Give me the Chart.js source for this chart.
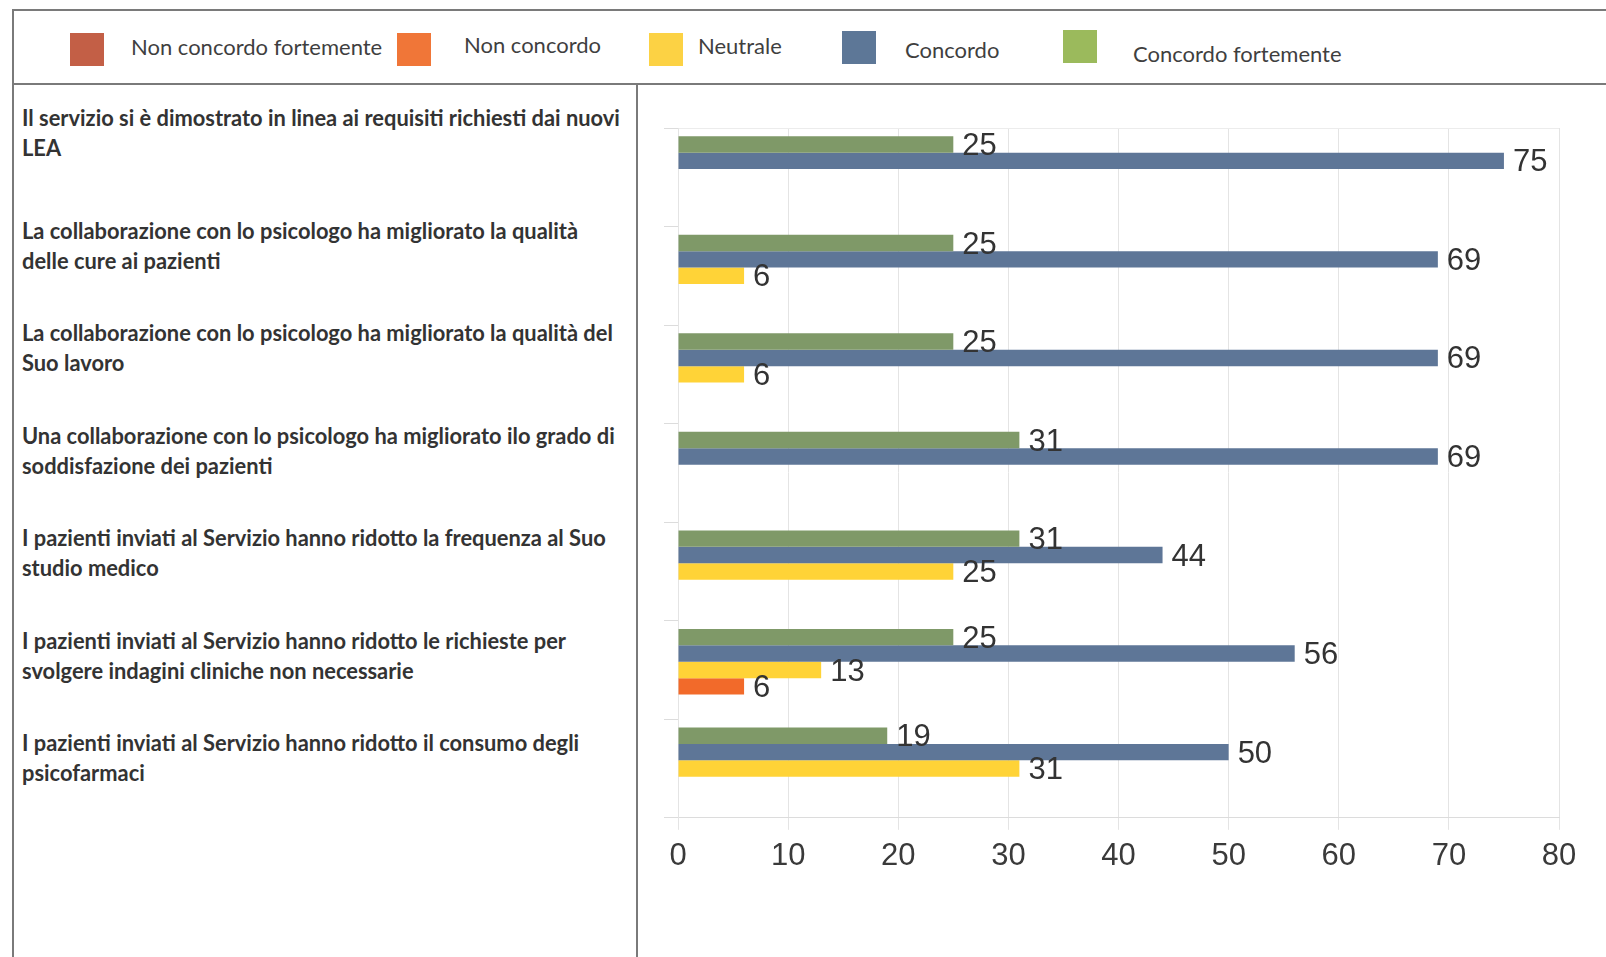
<!DOCTYPE html>
<html>
<head>
<meta charset="utf-8">
<script src="https://cdn.jsdelivr.net/npm/chart.js@4.4.1/dist/chart.umd.min.js"></script>
<style>
    html, body { margin: 0; padding: 0; background: #fff; }
    body { width: 1606px; height: 957px; position: relative; overflow: hidden; }
    .rule { position: absolute; background: #7a7a7a; }
    .swatch { position: absolute; width: 34px; height: 33px; }
    .legend-label {
        position: absolute; font-family: Lato, 'Open Sans', sans-serif;
        font-size: 22px; color: #3f3f3f; white-space: nowrap; line-height: 1;
        transform: translateY(-50%);
    }
    .question {
        position: absolute; left: 22px; font-family: Lato, 'Open Sans', sans-serif;
        font-weight: bold; color: #333; white-space: nowrap; line-height: 30px;
    }
    #plot { position: absolute; left: 640px; top: 86px; width: 966px; height: 871px; }
</style>
</head>
<body>

<div class="rule" style="left:12px; top:9px; width:1594px; height:2px;"></div>
<div class="rule" style="left:12px; top:9px; width:2px; height:948px;"></div>
<div class="rule" style="left:12px; top:83px; width:1594px; height:2px;"></div>
<div class="rule" style="left:636px; top:83px; width:2px; height:874px;"></div>

<div id="legend"></div>
<div id="questions"></div>
<div id="plot"><canvas id="chart"></canvas></div>

<script>
    'use strict';

    // survey statements, one row each (already split on two lines)
    var categories = [
        ['Il servizio si è dimostrato in linea ai requisiti richiesti dai nuovi', 'LEA'],
        ['La collaborazione con lo psicologo ha migliorato la qualità', 'delle cure ai pazienti'],
        ['La collaborazione con lo psicologo ha migliorato la qualità del', 'Suo lavoro'],
        ['Una collaborazione con lo psicologo ha migliorato ilo grado di', 'soddisfazione dei pazienti'],
        ['I pazienti inviati al Servizio hanno ridotto la frequenza al Suo', 'studio medico'],
        ['I pazienti inviati al Servizio hanno ridotto le richieste per', 'svolgere indagini cliniche non necessarie'],
        ['I pazienti inviati al Servizio hanno ridotto il consumo degli', 'psicofarmaci']
    ];

    // answers in percent
    var concordoFortemente    = [25, 25, 25, 31, 31, 25, 19];
    var concordo              = [75, 69, 69, 69, 44, 56, 50];
    var neutrale              = [0, 6, 6, 0, 25, 13, 31];
    var nonConcordo           = [0, 0, 0, 0, 0, 6, 0];
    var nonConcordoFortemente = [0, 0, 0, 0, 0, 0, 0];

    var xTicks = [0, 10, 20, 30, 40, 50, 60, 70, 80];

    var legendNames = ['Non concordo fortemente', 'Non concordo', 'Neutrale', 'Concordo', 'Concordo fortemente'];
    var legendColors = ['#c35f46', '#f07638', '#fcd244', '#5d7797', '#9bba5c'];
    // swatch x, swatch y, label x, label centre y
    var legendSlots = [[70, 33, 131, 47], [397, 33, 464, 45], [649, 33, 698, 46], [842, 31, 905, 50], [1063, 30, 1133, 54]];

    var legendEl = document.getElementById('legend');
    legendNames.forEach(function(name, i) {
        var slot = legendSlots[i];
        var sw = document.createElement('div');
        sw.className = 'swatch';
        sw.style.left = slot[0] + 'px';
        sw.style.top = slot[1] + 'px';
        sw.style.background = legendColors[i];
        legendEl.appendChild(sw);

        var lab = document.createElement('div');
        lab.className = 'legend-label';
        lab.style.left = slot[2] + 'px';
        lab.style.top = slot[3] + 'px';
        lab.textContent = name;
        legendEl.appendChild(lab);
    });

    // fit the statement font so the longest first line fills the column
    var measure = document.createElement('canvas').getContext('2d');
    measure.font = 'bold 100px Lato';
    var qSize = 100 * 598 / measure.measureText(categories[0][0]).width;

    var qEl = document.getElementById('questions');
    categories.forEach(function(lines, i) {
        var q = document.createElement('div');
        q.className = 'question';
        // first row sits a little tighter to the header
        q.style.top = (i === 0 ? 103 : 216 + (i - 1) * 102.4) + 'px';
        q.style.fontSize = qSize.toFixed(2) + 'px';
        q.innerHTML = lines[0] + '<br>' + lines[1];
        qEl.appendChild(q);
    });

    var valueLabels = {
        id: 'valueLabels',
        afterDatasetsDraw: function(chart) {
            var ctx = chart.ctx;
            ctx.save();
            ctx.font = '31px "Liberation Sans", Arial, sans-serif';
            ctx.fillStyle = '#333';
            ctx.textAlign = 'left';
            ctx.textBaseline = 'middle';
            chart.data.datasets.forEach(function(ds, i) {
                chart.getDatasetMeta(i).data.forEach(function(bar, j) {
                    var v = ds.data[j];
                    if (!v) {
                        return;
                    }
                    ctx.fillText(String(v), bar.x + 9, bar.y + 2);
                });
            });
            ctx.restore();
        }
    };

    function series(label, data, color) {
        return {
            label: label,
            data: data,
            backgroundColor: color,
            borderWidth: 0,
            categoryPercentage: 0.833,
            barPercentage: 1.0
        };
    }

    new Chart(document.getElementById('chart').getContext('2d'), {
        type: 'bar',
        data: {
            labels: categories.map(function(c) { return c.join(' '); }),
            datasets: [
                series('Concordo fortemente', concordoFortemente, '#7f9968'),
                series('Concordo', concordo, '#5e7697'),
                series('Neutrale', neutrale, '#ffd337'),
                series('Non concordo', nonConcordo, '#f26a2a'),
                series('Non concordo fortemente', nonConcordoFortemente, '#c35f46')
            ]
        },
        options: {
            indexAxis: 'y',
            responsive: true,
            maintainAspectRatio: false,
            animation: false,
            layout: { padding: { left: 24, right: 47, top: 42, bottom: 74 } },
            plugins: {
                legend: { display: false },
                tooltip: { enabled: false }
            },
            scales: {
                x: {
                    type: 'linear',
                    min: xTicks[0],
                    max: xTicks[xTicks.length - 1],
                    afterBuildTicks: function(scale) {
                        scale.ticks = xTicks.map(function(v) { return { value: v }; });
                    },
                    ticks: {
                        padding: 8,
                        color: '#3a3a3a',
                        font: { family: '"Liberation Sans", Arial, sans-serif', size: 31 }
                    },
                    grid: { color: '#e4e4e4', tickLength: 12 },
                    border: { color: '#dcdcdc' }
                },
                y: {
                    type: 'category',
                    offset: true,
                    ticks: { display: false },
                    grid: {
                        offset: true,
                        tickLength: 14,
                        tickColor: '#dcdcdc',
                        color: function(c) { return c.index === 0 ? '#ececec' : 'rgba(0,0,0,0)'; }
                    },
                    border: { color: '#e4e4e4' }
                }
            }
        },
        plugins: [valueLabels]
    });
</script>
</body>
</html>
